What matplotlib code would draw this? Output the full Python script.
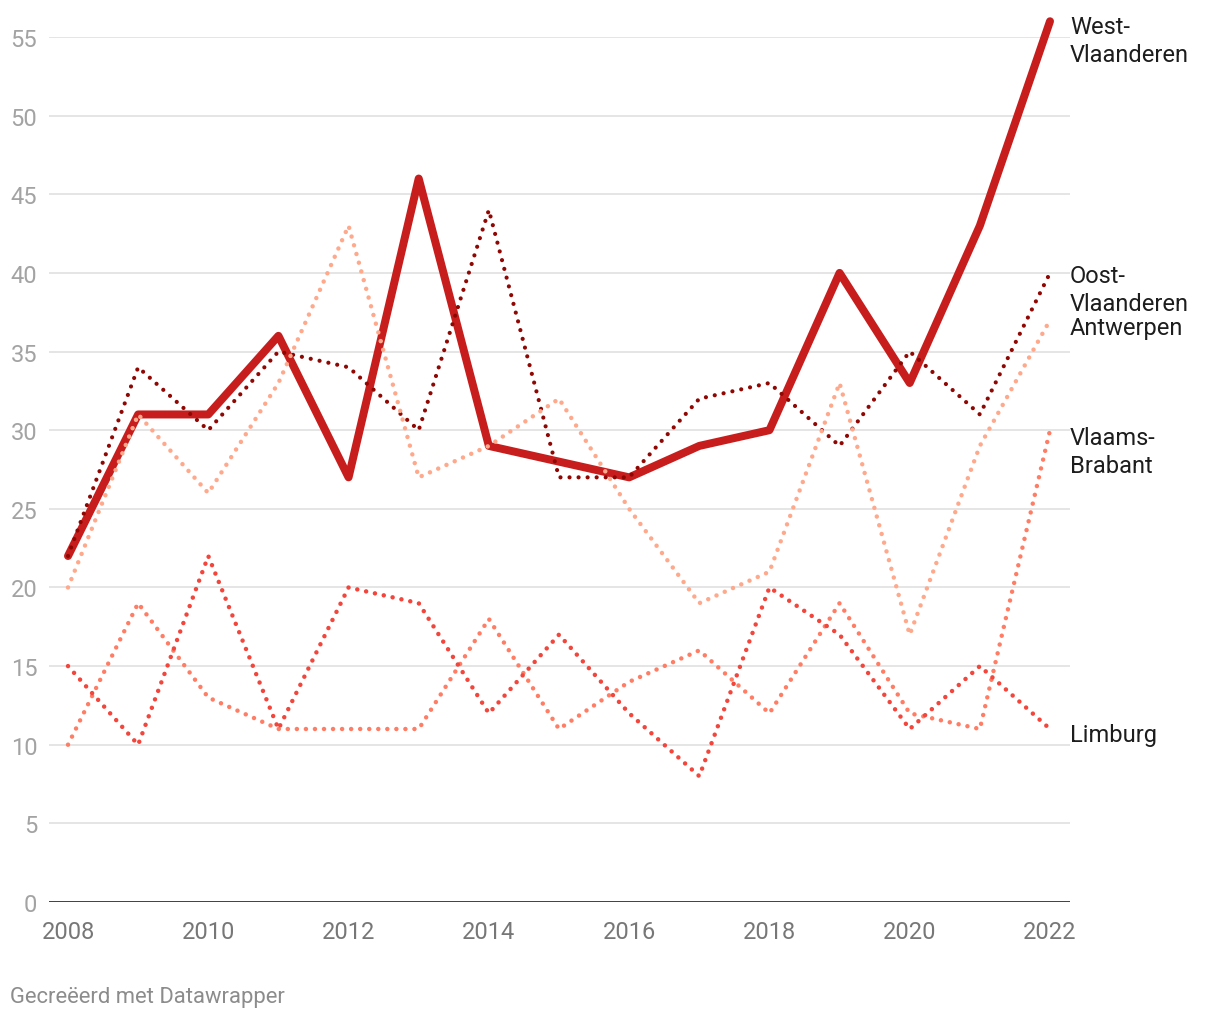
import numpy as np
import matplotlib
matplotlib.use("Agg")
import matplotlib.pyplot as plt

plt.rcParams['font.family'] = ['Roboto', 'DejaVu Sans']

years = list(range(2008, 2023))
west_vlaanderen = [22, 31, 31, 36, 27, 46, 29, 28, 27, 29, 30, 40, 33, 43, 56]
oost_vlaanderen = [22, 34, 30, 35, 34, 30, 44, 27, 27, 32, 33, 29, 35, 31, 40]
antwerpen = [20, 31, 26, 33, 43, 27, 29, 32, 25, 19, 21, 33, 17, 29, 37]
vlaams_brabant = [10, 19, 13, 11, 11, 11, 18, 11, 14, 16, 12, 19, 12, 11, 30]
limburg = [15, 10, 22, 11, 20, 19, 12, 17, 12, 8, 20, 17, 11, 15, 11]

series_names = ["West-\nVlaanderen", "Oost-\nVlaanderen", "Antwerpen",
                "Vlaams-\nBrabant", "Limburg"]
y_ticks = [0, 5, 10, 15, 20, 25, 30, 35, 40, 45, 50, 55]
x_ticks = [2008, 2010, 2012, 2014, 2016, 2018, 2020, 2022]
footer = "Gecreëerd met Datawrapper"

W, H = 1220, 1020
fig = plt.figure(figsize=(W / 100, H / 100), dpi=100)
left, right, top, bottom = 49, 1070, 38, 903
ax = fig.add_axes([left / W, 1 - bottom / H, (right - left) / W, (bottom - top) / H])

ax.set_xlim(2008 - 19 / 70.14, 2022 + 20 / 70.14)
ax.set_ylim(0, 55)

for sp in ax.spines.values():
    sp.set_visible(False)

# grid
for v in y_ticks[1:]:
    ax.axhline(v, color='#e3e3e3', lw=1.3, zorder=0)
ax.axhline(0, color='#1d1d1d', lw=1.9, zorder=1)

ax.set_yticks(y_ticks)
ax.set_yticklabels([str(v) for v in y_ticks])
ax.set_xticks(x_ticks)
ax.set_xticklabels([str(v) for v in x_ticks])
ax.tick_params(axis='y', length=0, pad=8.5, labelsize=17, labelcolor='#a3a3a3')
ax.tick_params(axis='x', length=0, pad=13.3, labelsize=17, labelcolor='#777777')

px = 0.72  # points per pixel at dpi 100

styles = [
    dict(data=west_vlaanderen, color='#c71e1d', lw=8 * px, dotted=False),
    dict(data=oost_vlaanderen, color='#8f0703', lw=4.2 * px, dotted=True),
    dict(data=antwerpen, color='#ffa98c', lw=4.5 * px, dotted=True),
    dict(data=vlaams_brabant, color='#ff7d64', lw=4.5 * px, dotted=True),
    dict(data=limburg, color='#f2453b', lw=4.5 * px, dotted=True),
]

for i, st in enumerate(styles):
    if st['dotted']:
        gap = 9 / (st['lw'] / px)
        ls = (0, (0.01, gap))
    else:
        ls = '-'
    ax.plot(years, st['data'], color=st['color'], lw=st['lw'], linestyle=ls,
            dash_capstyle='round', solid_capstyle='round',
            solid_joinstyle='round', dash_joinstyle='round',
            clip_on=False, zorder=3 + i)

# end labels: first-line baseline offset below the end point (pixels)
line_gap = 28
label_offsets = [12, 9, 14, 14, 12]
for name, st, dy in zip(series_names, styles, label_offsets):
    extra = line_gap * name.count('\n')
    ax.annotate(name, xy=(years[-1], st['data'][-1]), xytext=(20, -(dy + extra)),
                textcoords='offset pixels', ha='left', va='baseline',
                fontsize=17, color='#1d1d1d', linespacing=1.28,
                annotation_clip=False)

fig.text(10 / W, 1 - 998 / H, footer, ha='left', va='center',
         fontsize=15.8, color='#8c8c8c')

fig.savefig('out.png', dpi=100)
